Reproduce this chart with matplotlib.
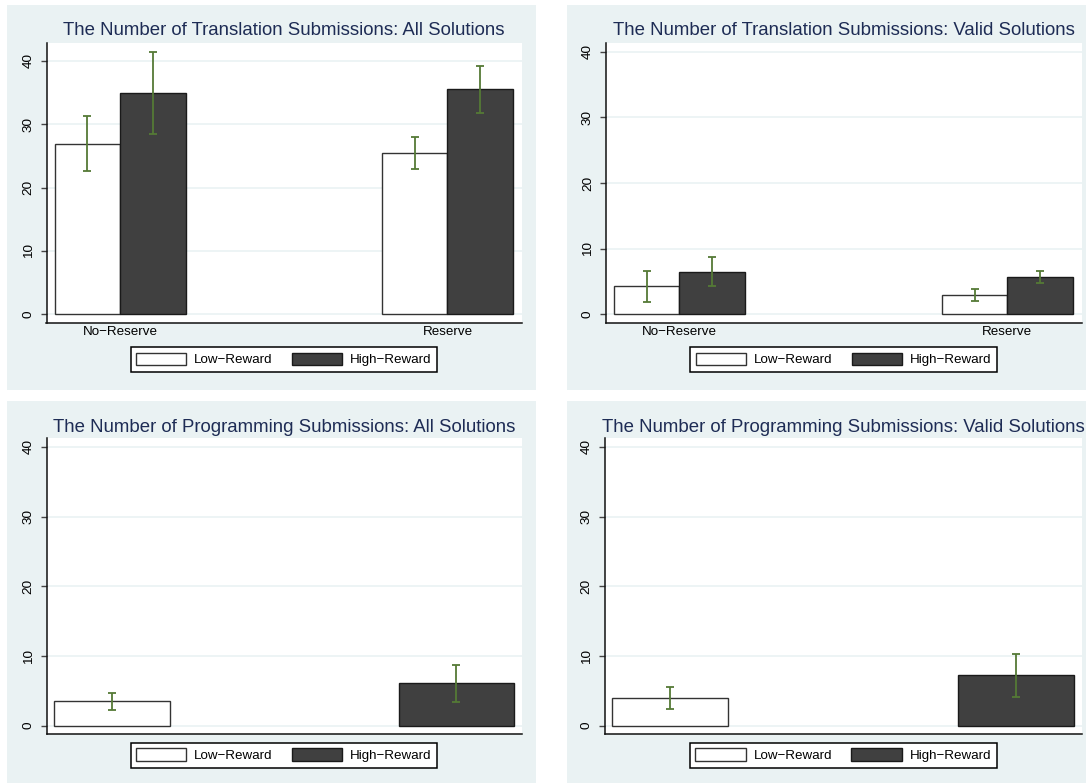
import numpy as np
import matplotlib
matplotlib.use("Agg")
import matplotlib.pyplot as plt
from matplotlib.patches import Rectangle

plt.rcParams['font.family'] = ['Liberation Sans', 'DejaVu Sans']

# data
groups = ['No\u2212Reserve', 'Reserve']
series = ['Low\u2212Reward', 'High\u2212Reward']

trans_all_mean = [[26.9, 25.4], [34.95, 35.5]]
trans_all_lo = [[22.6, 22.9], [28.4, 31.8]]
trans_all_hi = [[31.2, 28.0], [41.4, 39.2]]

trans_valid_mean = [[4.27, 2.99], [6.44, 5.68]]
trans_valid_lo = [[1.92, 2.07], [4.27, 4.72]]
trans_valid_hi = [[6.64, 3.90], [8.73, 6.64]]

prog_all_mean = [3.5, 6.08]
prog_all_lo = [2.2, 3.44]
prog_all_hi = [4.73, 8.67]

prog_valid_mean = [3.97, 7.23]
prog_valid_lo = [2.4, 4.12]
prog_valid_hi = [5.6, 10.24]

titles = ['The Number of Translation Submissions: All Solutions',
          'The Number of Translation Submissions: Valid Solutions',
          'The Number of Programming Submissions: All Solutions',
          'The Number of Programming Submissions: Valid Solutions']

W, H = 1086, 783
BG = '#EAF2F3'
DARK = '#404040'
ERR = '#557A36'
TITLE = '#1E2C55'

fig = plt.figure(figsize=(W / 100, H / 100), dpi=100)


def rect(x0, y0, x1, y1):
    # pixel box (top-left origin) -> figure fraction
    return [x0 / W, 1 - y1 / H, (x1 - x0) / W, (y1 - y0) / H]


def panel(bg, ax_box, ylim, xlim, title, tx, ty):
    fig.patches.append(Rectangle((bg[0], bg[1]), bg[2], bg[3], transform=fig.transFigure,
                                 facecolor=BG, edgecolor='none', zorder=-10))
    ax = fig.add_axes(rect(*ax_box))
    ax.set_facecolor('white')
    ax.set_ylim(*ylim)
    ax.set_xlim(*xlim)
    ax.set_yticks([0, 10, 20, 30, 40])
    ax.set_yticklabels(['0', '10', '20', '30', '40'], rotation=90, va='center')
    ax.yaxis.grid(True, color=BG, linewidth=1.2)
    ax.set_axisbelow(True)
    for s in ['top', 'right']:
        ax.spines[s].set_visible(False)
    for s in ['left', 'bottom']:
        ax.spines[s].set_color('#111111')
        ax.spines[s].set_linewidth(1.1)
    ax.tick_params(axis='y', length=4.2, width=1, color='#444444', pad=4.3, labelsize=9.7)
    ax.tick_params(axis='x', length=0, pad=2.5, labelsize=9.6)
    fig.text(tx / W, 1 - ty / H, title, ha='center', va='baseline',
             fontsize=13.4, color=TITLE)
    return ax


def add_legend(ax, handles, cx, cy):
    leg = ax.legend(handles, series, loc='center', bbox_to_anchor=(cx / W, 1 - cy / H),
                    bbox_transform=fig.transFigure, ncol=2, fontsize=9.6,
                    handlelength=3.76, handleheight=1.05, handletextpad=0.6,
                    columnspacing=1.45, borderpad=0.42, borderaxespad=0,
                    fancybox=False, framealpha=1, edgecolor='black')
    leg.get_frame().set_linewidth(1.1)


bar_kw = [dict(facecolor='white', edgecolor='#333333', linewidth=1.0),
          dict(facecolor=DARK, edgecolor='#1a1a1a', linewidth=1.0)]
err_kw = dict(fmt='none', ecolor=ERR, elinewidth=1.3, capsize=2.6, capthick=1.3, zorder=5)

# top row: grouped bars
x = np.arange(len(groups))
bw = 0.2
top_panels = [
    ((7 / W, 1 - 390 / H, 529 / W, 385 / H), (46.5, 43, 521.8, 322.7), (-1.32, 42.79),
     trans_all_mean, trans_all_lo, trans_all_hi, titles[0], 284, 35, 284, 359.5),
    ((566.5 / W, 1 - 390 / H, 530 / W, 385 / H), (605.7, 42.7, 1081.8, 322.7), (-1.28, 41.37),
     trans_valid_mean, trans_valid_lo, trans_valid_hi, titles[1], 843.7, 35, 843.7, 359.5),
]
for bg, box, yl, mean, lo, hi, t, tx, ty, lx, ly in top_panels:
    ax = panel(bg, box, yl, (-0.225, 1.227), t, tx, ty)
    handles = []
    for i in range(2):
        xs = x - bw / 2 + i * bw
        b = ax.bar(xs, mean[i], width=bw, **bar_kw[i])
        handles.append(b)
        m = np.array(mean[i])
        ax.errorbar(xs, m, yerr=[m - np.array(lo[i]), np.array(hi[i]) - m], **err_kw)
    ax.set_xticks(x)
    ax.set_xticklabels(groups)
    add_legend(ax, handles, lx, ly)

# bottom row: two bars, no groups
bot_panels = [
    ((7 / W, 0, 529 / W, 382 / H), (46.5, 438, 521.8, 733.7),
     prog_all_mean, prog_all_lo, prog_all_hi, titles[2], 284, 431.5, 284, 755.2),
    ((566.5 / W, 0, 530 / W, 382 / H), (604.6, 438, 1081.8, 733.7),
     prog_valid_mean, prog_valid_lo, prog_valid_hi, titles[3], 843.2, 431.5, 843.2, 755.2),
]
for bg, box, mean, lo, hi, t, tx, ty, lx, ly in bot_panels:
    ax = panel(bg, box, (-1.15, 41.29), (-0.19, 1.19), t, tx, ty)
    handles = []
    for i in range(2):
        b = ax.bar([i], [mean[i]], width=0.335, **bar_kw[i])
        handles.append(b)
        ax.errorbar([i], [mean[i]], yerr=[[mean[i] - lo[i]], [hi[i] - mean[i]]], **err_kw)
    ax.set_xticks([])
    add_legend(ax, handles, lx, ly)

fig.savefig('out.png', dpi=100, facecolor='white')
